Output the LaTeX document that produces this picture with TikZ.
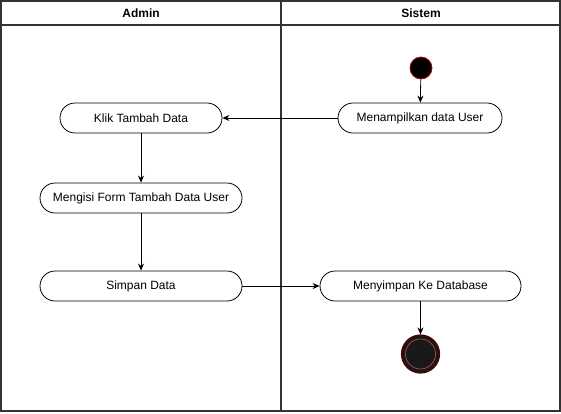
\documentclass[tikz,border=0pt]{standalone}
\usepackage{fontspec}
\setmainfont{Liberation Sans}
\usepackage{tikz}
\usetikzlibrary{arrows.meta,positioning}
\definecolor{startred}{HTML}{B20000}
\definecolor{lanegray}{HTML}{333333}

\begin{document}
\begin{tikzpicture}[
  x=1pt, y=-1pt,
  font=\fontsize{12}{14}\selectfont,
  lane/.style={draw=lanegray, line width=1.2pt},
  action/.style={draw=black, rounded corners=15pt, fill=white, minimum height=30pt, inner sep=0pt, align=center, line width=0.8pt},
  startnode/.style={circle, draw=startred, fill=black, minimum size=22pt, inner sep=0pt, line width=0.8pt},
  arrow/.style={-{Stealth[length=7pt,width=6pt]}, line width=0.8pt, draw=black}
]
  \useasboundingbox (0,0) rectangle (561,413);
  % lanes
  \draw[lane] (1,1) rectangle (560,411);
  \draw[lane] (1,25) -- (560,25);
  \draw[lane] (281,1) -- (281,411);
  \node[font=\fontsize{12}{14}\selectfont\bfseries] (admin) at (141,13) {Admin};
  \node[font=\fontsize{12}{14}\selectfont\bfseries] (sistem) at (421,13) {Sistem};

  % actions
  \node[startnode] (start) at (421,68) {};
  \node[action, minimum width=164pt] (tampil) at (420,118) {Menampilkan data User};
  \node[action, minimum width=162pt] (klik) at (141,118) {Klik Tambah Data};
  \node[action, minimum width=202pt] (isi) at (141,198) {Mengisi Form Tambah Data User};
  \node[action, minimum width=202pt] (simpan) at (141,286) {Simpan Data};
  \node[action, minimum width=201pt] (db) at (420.5,286) {Menyimpan Ke Database};
  \node[circle, draw=startred!45!black, fill=black!90, minimum size=38pt, inner sep=0pt, line width=1.2pt] (finish) at (420.5,354) {};
  \node[circle, draw=startred!70!white, minimum size=30pt, inner sep=0pt, line width=0.6pt] (finishdot) at (finish) {};

  \draw[arrow] (start) -- (tampil);
  \draw[arrow] (tampil) -- (klik);
  \draw[arrow] (klik) -- (isi);
  \draw[arrow] (isi) -- (simpan);
  \draw[arrow] (simpan) -- (db);
  \draw[arrow] (db) -- (finish);
\end{tikzpicture}
\end{document}
